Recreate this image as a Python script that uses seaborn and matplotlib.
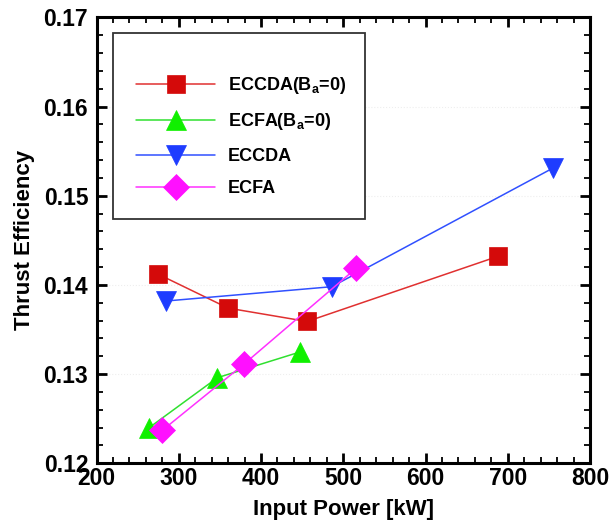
import numpy as np
import pandas as pd
import matplotlib
matplotlib.use("Agg")
import matplotlib.pyplot as plt
import matplotlib.ticker as mtick
from matplotlib.patches import Rectangle
import seaborn as sns

# ── Data ─────────────────────────────────────────────────────────────────
eccda_b0_power = [275, 360, 456, 688]
eccda_b0_eff   = [0.1412, 0.1374, 0.1359, 0.1432]

ecfa_b0_power  = [264, 347, 448]
ecfa_b0_eff    = [0.1240, 0.1296, 0.1325]

eccda_power    = [285, 486, 755]
eccda_eff      = [0.1382, 0.1398, 0.1531]

ecfa_power     = [280, 379, 516]
ecfa_eff       = [0.1237, 0.1311, 0.1419]

labels = [r'ECCDA(B$_\mathregular{a}$=0)', r'ECFA(B$_\mathregular{a}$=0)',
          'ECCDA', 'ECFA']

# ── Styling ──────────────────────────────────────────────────────────────
sns.set_style("ticks")
plt.rcParams.update({
    'font.family': ['Liberation Sans', 'DejaVu Sans'],
    'font.weight': 'bold',
    'axes.labelweight': 'bold',
    'axes.linewidth': 2.2,
    'axes.edgecolor': 'black',
    'axes.labelcolor': 'black',
    'text.color': 'black',
    'xtick.color': 'black',
    'ytick.color': 'black',
    'xtick.direction': 'in',
    'ytick.direction': 'in',
    'xtick.top': True,
    'ytick.right': True,
    'mathtext.default': 'regular',
})

SERIES = [
    (eccda_b0_power, eccda_b0_eff, '#D40A0A', '#E03030', 's', 13.5),
    (ecfa_b0_power,  ecfa_b0_eff,  '#10F000', '#30E030', '^', 15),
    (eccda_power,    eccda_eff,    '#1E3CFF', '#3050FF', 'v', 15),
    (ecfa_power,     ecfa_eff,     '#FF10FF', '#FF30FF', 'D', 13),
]

fig = plt.figure(figsize=(6.11, 5.28), dpi=100)
ax = fig.add_axes([0.158, 0.1225, 0.8076, 0.8447])

for (x, y, mc, lc, mk, ms), lab in zip(SERIES, labels):
    df = pd.DataFrame({'power': x, 'eff': y})
    sns.lineplot(data=df, x='power', y='eff', ax=ax, color=lc, lw=1.1,
                 marker=mk, markersize=ms, markerfacecolor=mc,
                 markeredgecolor=mc, markeredgewidth=0.5, label=lab)

ax.set_xlim(200, 800)
ax.set_ylim(0.12, 0.17)
ax.xaxis.set_major_locator(mtick.MultipleLocator(100))
ax.xaxis.set_minor_locator(mtick.MultipleLocator(20))
ax.yaxis.set_major_locator(mtick.MultipleLocator(0.01))
ax.yaxis.set_minor_locator(mtick.MultipleLocator(0.002))
ax.yaxis.set_major_formatter(mtick.FormatStrFormatter('%.2f'))
ax.tick_params(which='major', length=7.5, width=2, labelsize=16.5)
ax.tick_params(axis='x', which='major', pad=3)
ax.tick_params(axis='y', which='major', pad=6)
ax.tick_params(which='minor', length=4, width=1.3, top=True, right=True,
               direction='in')
ax.grid(axis='y', which='major', color='#EEEEEE', linestyle=':', lw=0.8)
for lbl in ax.get_xticklabels() + ax.get_yticklabels():
    lbl.set_fontweight('bold')

ax.set_xlabel('Input Power [kW]', fontsize=16, fontweight='bold', labelpad=6)
ax.set_ylabel('Thrust Efficiency', fontsize=16, fontweight='bold', labelpad=6)

# legend box drawn as a plain rectangle, entries placed inside it
ax.add_patch(Rectangle((0.033, 0.548), 0.511, 0.417, transform=ax.transAxes,
                       facecolor='white', edgecolor='#333333', lw=1.3,
                       zorder=4))
leg = ax.legend(loc='upper left', bbox_to_anchor=(0.08, 0.871),
                frameon=False, fontsize=13, handlelength=4.4,
                handletextpad=0.7, labelspacing=0.86, borderpad=0,
                borderaxespad=0)
leg.set_zorder(5)
for t in leg.get_texts():
    t.set_fontweight('bold')

plt.savefig('out.png', dpi=100)
plt.close()
